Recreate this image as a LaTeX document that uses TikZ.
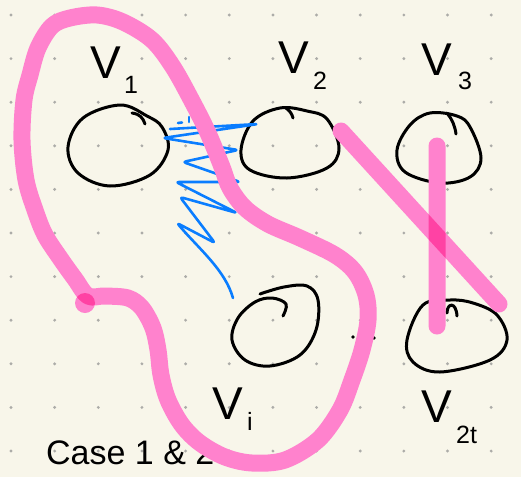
\documentclass[tikz,border=0pt]{standalone}
\usepackage{fontspec}
\setmainfont{Liberation Sans}
\definecolor{paper}{RGB}{248,246,234}
\definecolor{dotc}{RGB}{172,172,168}
\definecolor{pinkc}{RGB}{255,130,205}
\definecolor{bluec}{RGB}{10,125,255}
\tikzset{
  ink/.style={draw=black, line width=3pt, line cap=round, line join=round},
  blueink/.style={draw=bluec, line width=2.6pt, line cap=round, line join=round},
  pinkline/.style={draw=pinkc, line width=17pt, line cap=round, line join=round},
  lbl/.style={inner sep=0pt, anchor=north west, font=\fontsize{46}{50}\selectfont},
  sublbl/.style={inner sep=0pt, anchor=north west, font=\fontsize{25}{28}\selectfont},
}
\begin{document}
\begin{tikzpicture}[x=1pt,y=-1pt]
\clip (0,0) rectangle (521,477);
\fill[paper] (0,0) rectangle (521,477);
% dotted grid
\foreach \i in {0,...,11} \foreach \j in {0,...,10}
  \fill[dotc] ({11+43.65*\i},{15+43.6*\j}) circle (1.6);

% vertex circles
\draw[ink] plot[smooth cycle, tension=0.6] coordinates
  {(120,105) (147,116) (162,127) (168,150) (150,175) (110,186) (78,173) (68,147) (83,118)};
\draw[ink] (132,113) .. controls (140,114) and (143,118) .. (145,124);

\draw[ink] plot[smooth cycle, tension=0.6] coordinates
  {(280,108) (307,111) (327,119) (339,148) (327,168) (287,178) (250,170) (241,150) (253,121)};
\draw[ink] (286,108) .. controls (290,111) and (292,114) .. (293,118);

\draw[ink] plot[smooth cycle, tension=0.6] coordinates
  {(430,113) (457,116) (470,127) (481,158) (470,177) (440,183) (405,172) (397,150) (410,125)};
\draw[ink] (447,113) .. controls (452,119) and (455,126) .. (456,134);

\draw[ink] plot[smooth, tension=0.6] coordinates
  {(260,294) (284,287) (307,286) (318,300) (316,330) (300,355) (270,366) (245,360) (232,340) (238,318) (255,302) (272,298) (286,304) (283,316)};

\draw[ink] plot[smooth cycle, tension=0.6] coordinates
  {(450,300) (473,303) (497,315) (507,340) (490,360) (440,372) (413,362) (407,340) (423,305)};
\draw[ink] (447,313) .. controls (447,303) and (456,301) .. (457,316);

\fill (353,337) circle (1.9);
\fill (374,338) circle (1.9);

% labels
\node[lbl] (v1) at (90,47) {V};
\node[sublbl] (v1s) at (124,76) {1};
\node[lbl] (v2) at (278,42) {V};
\node[sublbl] (v2s) at (313,72) {2};
\node[lbl] (v3) at (421,44) {V};
\node[sublbl] (v3s) at (458,72) {3};
\node[lbl] (vi) at (212,388) {V};
\node[sublbl] (vis) at (247,412) {i};
\node[lbl] (v2t) at (421,391) {V};
\node[sublbl] (v2ts) at (456,426) {2t};
\node[inner sep=0pt, anchor=north west, font=\fontsize{34}{38}\selectfont] (case) at (46,441) {Case 1 \& 2};

% blue scribble
\draw[blueink, rounded corners=3pt] (170,129) -- (258,124) -- (163,138) -- (238,150) -- (183,162)
  -- (240,182) -- (176,182) -- (237,213) -- (180,197) -- (215,243) -- (177,223)
  .. controls (200,250) and (225,270) .. (233,298);
\draw[blueink] (178,123) -- (182,122.5);
\draw[blueink] (189,117) -- (189,122);

% pink highlighter
\begin{scope}[blend group=multiply]
\draw[pinkline] plot[smooth cycle, tension=0.55] coordinates
  {(88,296) (105,296) (128,298) (142,308) (153,328) (158,350) (161,375) (168,400) (182,425)
   (200,443) (225,457) (252,463) (285,460) (318,440) (340,410) (352,380) (362,350) (368,320)
   (366,295) (355,272) (335,255) (300,238) (268,224) (245,208) (230,188) (222,167) (208,133)
   (193,103) (173,67) (152,40) (123,22) (97,15) (70,18) (52,26) (38,48) (30,75) (24,100)
   (22,140) (26,180) (35,210) (45,235) (60,258) (75,279)};
\fill[pinkc] (85,303) circle (10);
\draw[pinkline] (437,146) -- (437,326);
\draw[pinkline] (341,131) -- (499,304);
\end{scope}
\end{tikzpicture}
\end{document}
